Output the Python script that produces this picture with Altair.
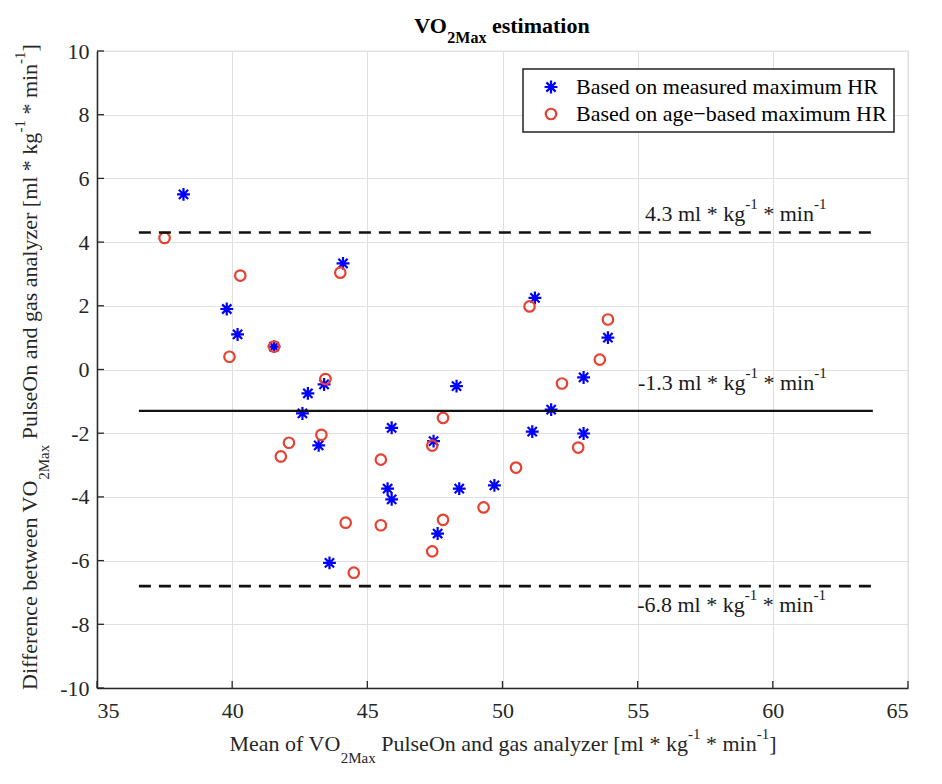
import altair as alt
import pandas as pd

FONT = "Liberation Serif"
W, H = 811, 637

# ---------------- data ----------------
series_names = ["Based on measured maximum HR", "Based on age\u2212based maximum HR"]

measured_mean = [38.2, 39.8, 40.2, 41.55, 42.8, 43.4, 42.6, 43.2, 44.1, 43.6, 45.9, 45.75,
                 45.9, 47.45, 47.6, 48.3, 48.4, 49.7, 51.2, 51.1, 51.8, 53.0, 53.0, 53.9]
measured_diff = [5.5, 1.9, 1.1, 0.72, -0.75, -0.47, -1.38, -2.38, 3.33, -6.07, -1.83, -3.74,
                 -4.08, -2.25, -5.15, -0.52, -3.74, -3.64, 2.25, -1.95, -1.26, -0.25, -2.01, 1.0]

age_mean = [37.5, 40.3, 39.9, 41.55, 42.1, 41.8, 43.3, 43.45, 44.0, 44.2, 44.5, 45.5,
            45.5, 47.4, 47.8, 47.4, 47.8, 49.3, 50.5, 51.0, 52.2, 53.6, 52.8, 53.9]
age_diff = [4.13, 2.95, 0.4, 0.72, -2.3, -2.73, -2.05, -0.3, 3.04, -4.81, -6.38, -2.83,
            -4.89, -2.39, -1.52, -5.71, -4.72, -4.33, -3.08, 1.98, -0.44, 0.31, -2.45, 1.57]

limit_values = [4.3, -1.3, -6.8]
limit_kinds = ["limit", "mean", "limit"]
limit_texts = ["4.3 ml * kg", "-1.3 ml * kg", "-6.8 ml * kg"]
limit_text_x = [55.27, 55.01, 54.98]
line_x_range = [36.55, 63.7]

x_ticks = [35, 40, 45, 50, 55, 60, 65]
y_ticks = [-10, -8, -6, -4, -2, 0, 2, 4, 6, 8, 10]

title_pieces = [("VO", "n"), ("2Max", "sub"), (" estimation", "n")]
xtitle_pieces = [("Mean of VO", "n"), ("2Max", "sub"), (" PulseOn and gas analyzer [ml * kg", "n"),
                 ("-1", "sup"), (" * min", "n"), ("-1", "sup"), ("]", "n")]
ytitle_pieces = [("Difference between VO", "n"), ("2Max", "sub"), (" PulseOn and gas analyzer [ml * kg", "n"),
                 ("-1", "sup"), (" * min", "n"), ("-1", "sup"), ("]", "n")]

# ---------------- helpers ----------------
REG = {' ': 250, '-': 333, '.': 250, '*': 500, '[': 333, ']': 333,
       'B': 667, 'D': 722, 'H': 722, 'M': 889, 'O': 722, 'P': 556, 'R': 667, 'V': 722,
       'a': 444, 'b': 500, 'c': 444, 'd': 500, 'e': 444, 'f': 333, 'g': 500, 'i': 278,
       'k': 500, 'l': 278, 'm': 778, 'n': 500, 'o': 500, 'r': 333, 's': 389, 't': 278,
       'u': 500, 'w': 722, 'x': 500, 'y': 500, 'z': 444}
BOLD = {' ': 250, '2': 500, 'M': 944, 'O': 778, 'V': 722, 'a': 500, 'e': 444, 'i': 278,
        'm': 833, 'n': 556, 'o': 500, 's': 389, 't': 333, 'x': 500}


def measure(s, size, bold=False):
    tbl = BOLD if bold else REG
    return sum(tbl.get(c, 500) for c in s) / 1000.0 * size


def total_width(pieces, main, small, bold=False):
    return sum(measure(t, main if k == "n" else small, bold) for t, k in pieces)


def rich(pieces, data, enc, main, small, bold=False, angle=None, color="#000000",
         sub_dy=12, sup_dy=-12, extra_dy=0):
    layers = []
    off = 0.0
    for txt, kind in pieces:
        size = main if kind == "n" else small
        dy = {"n": 0, "sub": sub_dy, "sup": sup_dy}[kind] + extra_dy
        stripped = txt.lstrip(" ")
        off += measure(txt[:len(txt) - len(stripped)], size, bold)
        props = dict(align="left", baseline="alphabetic", font=FONT, fontSize=size,
                     fontWeight="bold" if bold else "normal", color=color, dx=off, dy=dy)
        if angle is not None:
            props["angle"] = angle
        d = data.assign(t=stripped)
        layers.append(alt.Chart(d).mark_text(**props).encode(text="t:N", **enc))
        off += measure(stripped, size, bold)
    return layers


xs = alt.Scale(domain=[35, 65], nice=False, zero=False)
ys = alt.Scale(domain=[-10, 10], nice=False, zero=False)
x_axis = alt.Axis(values=x_ticks, title=None, labelExpr="toString(datum.value)",
                  labelPadding=12, grid=True, ticks=False)
y_axis = alt.Axis(values=y_ticks, title=None, labelExpr="toString(datum.value)",
                  labelPadding=8, grid=True, ticks=False)

df = pd.DataFrame({
    "mean": measured_mean + age_mean,
    "diff": measured_diff + age_diff,
    "series": [series_names[0]] * len(measured_mean) + [series_names[1]] * len(age_mean),
})

STAR = "M-1,0L1,0M0,-1L0,1M-0.72,-0.72L0.72,0.72M-0.72,0.72L0.72,-0.72"

leg = alt.Legend(title=None, orient="none", legendX=426, legendY=18, direction="vertical",
                 labelFont=FONT, labelFontSize=22, labelColor="#000000", padding=7,
                 rowPadding=5, strokeColor="#222222", fillColor="#ffffff",
                 symbolStrokeWidth=2.2, symbolSize=140, symbolOffset=10, labelOffset=14,
                 labelLimit=500)

points = alt.Chart(df).mark_point(filled=False, strokeWidth=2.2, opacity=1).encode(
    x=alt.X("mean:Q", scale=xs, axis=x_axis),
    y=alt.Y("diff:Q", scale=ys, axis=y_axis),
    color=alt.Color("series:N", scale=alt.Scale(domain=series_names, range=["#0000ff", "#e8412f"]),
                    legend=leg),
    shape=alt.Shape("series:N", scale=alt.Scale(domain=series_names, range=[STAR, "circle"]),
                    legend=leg),
    size=alt.Size("series:N", scale=alt.Scale(domain=series_names, range=[165, 110]), legend=None),
)

lines_df = pd.DataFrame({"y": limit_values, "kind": limit_kinds,
                         "x1": [line_x_range[0]] * 3, "x2": [line_x_range[1]] * 3})

dashed = alt.Chart(lines_df).transform_filter("datum.kind == 'limit'").mark_rule(
    color="#111111", strokeWidth=2.6, strokeDash=[12, 8]).encode(
    x=alt.X("x1:Q", scale=xs, axis=x_axis), x2="x2:Q", y=alt.Y("y:Q", scale=ys, axis=y_axis))
solid = alt.Chart(lines_df).transform_filter("datum.kind == 'mean'").mark_rule(
    color="#111111", strokeWidth=2.4).encode(
    x=alt.X("x1:Q", scale=xs, axis=x_axis), x2="x2:Q", y=alt.Y("y:Q", scale=ys, axis=y_axis))

xtick_rules = alt.Chart(pd.DataFrame({"v": x_ticks})).mark_rule(color="#262626", strokeWidth=1.3).encode(
    x=alt.X("v:Q", scale=xs, axis=x_axis), y=alt.value(H), y2=alt.value(H - 7))
ytick_rules = alt.Chart(pd.DataFrame({"v": y_ticks})).mark_rule(color="#262626", strokeWidth=1.3).encode(
    y=alt.Y("v:Q", scale=ys, axis=y_axis), x=alt.value(0), x2=alt.value(7))

layers = [points, dashed, solid, xtick_rules, ytick_rules]

# annotations of the limit lines
ann_dy = [-12, -21, 26]
for i in range(3):
    d = pd.DataFrame({"x": [limit_text_x[i]], "y": [limit_values[i]]})
    pieces = [(limit_texts[i], "n"), ("-1", "sup"), (" * min", "n"), ("-1", "sup")]
    enc = dict(x=alt.X("x:Q", scale=xs, axis=x_axis), y=alt.Y("y:Q", scale=ys, axis=y_axis))
    layers += rich(pieces, d, enc, 22, 15, color="#1a1a1a", sup_dy=-12, extra_dy=ann_dy[i])

one = pd.DataFrame({"k": [0]})

# chart title
tw = total_width(title_pieces, 22, 16, bold=True)
layers += rich(title_pieces, one, dict(x=alt.value(405 - tw / 2), y=alt.value(-18)),
               22, 16, bold=True, sub_dy=10)

# x title
xw = total_width(xtitle_pieces, 22, 15)
layers += rich(xtitle_pieces, one, dict(x=alt.value(406 - xw / 2), y=alt.value(700)),
               22, 15, color="#262626", sub_dy=12, sup_dy=-12)

# y title (rotated)
yw = total_width(ytitle_pieces, 22, 15)
layers += rich(ytitle_pieces, one, dict(x=alt.value(-60), y=alt.value(316 + yw / 2)),
               22, 15, angle=270, color="#262626", sub_dy=12, sup_dy=-12)

chart = alt.layer(*layers).properties(
    width=W, height=H,
    padding={"left": 89, "top": 43, "right": 25, "bottom": 90},
    autosize=alt.AutoSizeParams(type="none"),
    background="#ffffff",
).configure_axis(
    labelFont=FONT, labelFontSize=22, labelColor="#262626",
    gridColor="#e0e0e0", gridWidth=1.1,
    domainColor="#262626", domainWidth=1.5,
).configure_legend(
    labelFont=FONT, labelFontSize=22, strokeWidth=1.5,
).configure_view(stroke="#d0d0d0", strokeWidth=1.2)

chart.save("out.html", embed_options={"renderer": "svg", "actions": False})
